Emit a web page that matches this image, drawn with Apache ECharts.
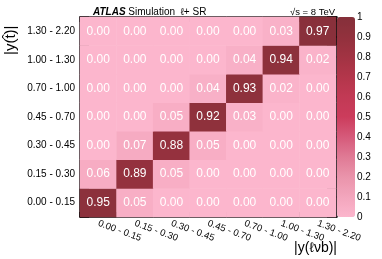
<!DOCTYPE html>
<html><head><meta charset="utf-8">
<script src="https://cdn.jsdelivr.net/npm/echarts@6/dist/echarts.min.js"></script>
<style>html,body{margin:0;padding:0;background:#fff}#c{width:382px;height:259px}</style>
</head><body><div id="c"></div>
<script>
const xCategories = ['0.00 - 0.15','0.15 - 0.30','0.30 - 0.45','0.45 - 0.70','0.70 - 1.00','1.00 - 1.30','1.30 - 2.20'];
const yCategories = ['0.00 - 0.15','0.15 - 0.30','0.30 - 0.45','0.45 - 0.70','0.70 - 1.00','1.00 - 1.30','1.30 - 2.20'];
// rows from bottom (y index 0) to top
const row0 = [0.95, 0.05, 0.00, 0.00, 0.00, 0.00, 0.00];
const row1 = [0.06, 0.89, 0.05, 0.00, 0.00, 0.00, 0.00];
const row2 = [0.00, 0.07, 0.88, 0.05, 0.00, 0.00, 0.00];
const row3 = [0.00, 0.00, 0.05, 0.92, 0.03, 0.00, 0.00];
const row4 = [0.00, 0.00, 0.00, 0.04, 0.93, 0.02, 0.00];
const row5 = [0.00, 0.00, 0.00, 0.00, 0.04, 0.94, 0.02];
const row6 = [0.00, 0.00, 0.00, 0.00, 0.00, 0.03, 0.97];
const colorTicks = [0,0.1,0.2,0.3,0.4,0.5,0.6,0.7,0.8,0.9,1];
const xTitle = '|y(ℓνb)|';
const yTitle = '|y(t̂)|';

const rows = [row0,row1,row2,row3,row4,row5,row6];
const data = [];
rows.forEach((r, yi) => r.forEach((v, xi) => data.push([xi, yi, v])));

const F = 'Liberation Sans, Arial, sans-serif';
const chart = echarts.init(document.getElementById('c'), null, {renderer:'canvas'});
const frame = {show:true, lineStyle:{color:'#000', width:1.5}};
chart.setOption({
  animation:false,
  textStyle:{fontFamily:F},
  title:[{
    text:'{b|ATLAS} Simulation  ℓ+ SR',
    left:88, top:2,
    textStyle:{fontFamily:F, fontSize:10, fontWeight:'normal', color:'#000',
      rich:{b:{fontFamily:F, fontSize:10, fontWeight:'bold', fontStyle:'italic', color:'#000'}}}
  },{
    text:'√s = 8 TeV', left:285, top:2,
    textStyle:{fontFamily:F, fontSize:9.5, fontWeight:'normal', color:'#000'}
  }],
  graphic:[
    {type:'text', right:382-337, top:241,
     style:{text:xTitle, font:'14px ' + F, fill:'#000'}},
    {type:'text', x:3, y:55, rotation:Math.PI/2,
     style:{text:yTitle, font:'15px ' + F, fill:'#000', align:'left', verticalAlign:'top'}}
  ],
  grid:[
    {left:80, top:17, width:256, height:200},
    {left:337, top:17, width:18, height:200}
  ],
  xAxis:[
    {type:'category', gridIndex:0, data:xCategories, position:'bottom',
     axisLine:frame, axisTick:{show:true, inside:true, length:5, lineStyle:{color:'#000', width:1.5}},
     axisLabel:{rotate:-20, interval:0, hideOverlap:false, fontSize:9.5, color:'#000', margin:6, fontFamily:F},
     splitLine:{show:false}},
    {type:'category', gridIndex:0, data:xCategories, position:'top',
     axisLine:frame, axisTick:{show:true, inside:true, length:5, lineStyle:{color:'#000', width:1.5}},
     axisLabel:{show:false}},
    {type:'value', gridIndex:1, show:false, min:0, max:1}
  ],
  yAxis:[
    {type:'category', gridIndex:0, data:yCategories, position:'left',
     axisLine:frame, axisTick:{show:true, inside:true, length:9, lineStyle:{color:'#000', width:1.5}},
     axisLabel:{fontSize:10, color:'#000', margin:5, fontFamily:F, interval:0}},
    {type:'category', gridIndex:0, data:yCategories, position:'right',
     axisLine:frame, axisTick:{show:true, inside:true, length:9, lineStyle:{color:'#000', width:1.5}},
     axisLabel:{show:false}},
    {type:'value', gridIndex:1, position:'right', min:0, max:1, interval:0.1,
     axisLine:{show:true, lineStyle:{color:'#000', width:1.5}},
     axisTick:{show:true, inside:true, length:8, lineStyle:{color:'#000', width:1.5}},
     axisLabel:{fontSize:10, color:'#000', margin:2, fontFamily:F,
       formatter: v => { const t = colorTicks.find(c => Math.abs(c - v) < 1e-6); return t === undefined ? '' : String(t); }},
     splitLine:{show:false}}
  ],
  visualMap:{
    type:'continuous', min:0, max:1, calculable:false, seriesIndex:0,
    orient:'vertical', left:337, top:17, itemWidth:18, itemHeight:200, padding:0,
    text:null, showLabel:false,
    inRange:{color:['#fcb6cd','#f3a6bd','#ea94ab','#e07a95','#d65a7a','#cc3c5c','#c23a55','#b3364b','#a23343','#92313d','#85303a']}
  },
  series:[{
    type:'heatmap', xAxisIndex:0, yAxisIndex:0, data:data,
    label:{show:true, color:'#fff', fontSize:12, fontFamily:F, formatter: p => p.value[2].toFixed(2)},
    itemStyle:{borderWidth:0}
  }]
});
</script></body></html>
